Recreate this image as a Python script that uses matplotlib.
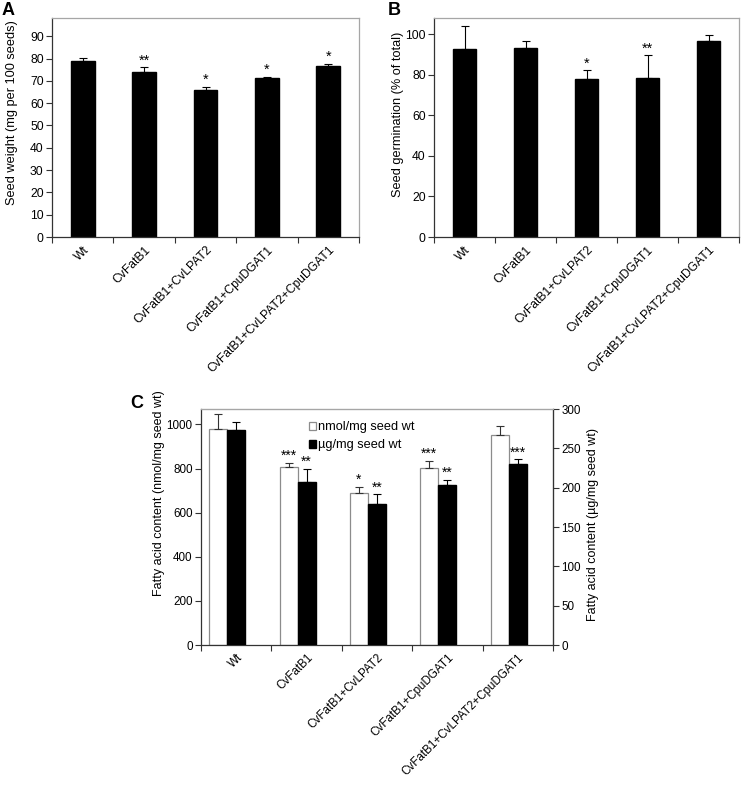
import matplotlib
matplotlib.use("Agg")
import matplotlib.pyplot as plt
import numpy as np

plt.rcParams['font.family'] = ['Liberation Sans', 'DejaVu Sans']

categories = ["Wt", "CvFatB1", "CvFatB1+CvLPAT2", "CvFatB1+CpuDGAT1", "CvFatB1+CvLPAT2+CpuDGAT1"]

# Panel A: seed weight
weight = [79.0, 74.2, 65.8, 71.1, 76.6]
weight_err = [1.3, 1.9, 1.5, 0.8, 0.9]
weight_sig = ["", "**", "*", "*", "*"]

# Panel B: germination
germ = [92.5, 93.2, 77.7, 78.2, 96.7]
germ_err = [11.4, 3.2, 4.4, 11.3, 2.7]
germ_sig = ["", "", "*", "**", ""]

# Panel C: fatty acid content
fa_nmol = [978, 805, 690, 802, 954]
fa_nmol_err = [71, 20, 26, 31, 41]
fa_nmol_sig = ["", "***", "*", "***", ""]
fa_ug = [273.5, 206.7, 178.8, 202.9, 230.3]
fa_ug_err = [10.5, 17, 12.7, 6.7, 5.6]
fa_ug_sig = ["", "**", "**", "**", "***"]

W, H = 746, 785
fig = plt.figure(figsize=(W/100, H/100), dpi=100)

def box(l, r, t, b):
    return [l/W, 1 - b/H, (r-l)/W, (b-t)/H]

DARK = "#333333"
LIGHT = "#a6a6a6"

def style_axes(ax, tick_fs, right_dark=False):
    for s in ["left", "bottom"]:
        ax.spines[s].set_color(DARK)
        ax.spines[s].set_linewidth(0.9)
    ax.spines["top"].set_color(LIGHT)
    ax.spines["top"].set_linewidth(0.9)
    ax.spines["right"].set_color(DARK if right_dark else LIGHT)
    ax.spines["right"].set_linewidth(0.9)
    ax.tick_params(axis='y', direction='out', length=4, width=0.8, color=DARK, labelsize=tick_fs, pad=2)
    ax.tick_params(axis='x', which='minor', direction='out', length=4, width=0.8, color=DARK)
    ax.tick_params(axis='x', which='major', length=0, labelsize=tick_fs, pad=5)
    n = len(categories)
    ax.set_xlim(-0.5, n - 0.5)
    ax.set_xticks(np.arange(n))
    ax.set_xticks(np.arange(n + 1) - 0.5, minor=True)

def sig_text(ax, xs, tops, sigs, size=10.5):
    for x, t, s in zip(xs, tops, sigs):
        if s:
            ax.annotate(s, (x, t), xytext=(0, 0), textcoords="offset points",
                        ha="center", va="bottom", fontsize=size)

x = np.arange(len(categories))

# Panel A
axA = fig.add_axes(box(52, 359, 18, 237))
axA.bar(x, weight, width=0.39, color="black", edgecolor="black", zorder=2)
axA.errorbar(x, weight, yerr=[np.zeros(5), weight_err], fmt="none", ecolor="black",
             elinewidth=0.8, capsize=3, capthick=0.8, zorder=3)
axA.set_ylim(0, 98.2)
axA.set_yticks(np.arange(0, 91, 10))
style_axes(axA, 8.7)
axA.set_xticklabels(categories, rotation=45, ha="right", rotation_mode="anchor")
axA.set_ylabel("Seed weight (mg per 100 seeds)", fontsize=9.2)
axA.yaxis.set_label_coords((18 - 52) / 307, 0.57)
sig_text(axA, x, np.array(weight) + np.array(weight_err), weight_sig)
fig.text(2/W, 1 - 2/H, "A", fontsize=13, fontweight="bold", va="top", ha="left")

# Panel B
axB = fig.add_axes(box(434, 739, 18, 237))
axB.bar(x, germ, width=0.39, color="black", edgecolor="black", zorder=2)
axB.errorbar(x, germ, yerr=[np.zeros(5), germ_err], fmt="none", ecolor="black",
             elinewidth=0.8, capsize=3, capthick=0.8, zorder=3)
axB.set_ylim(0, 107.9)
axB.set_yticks(np.arange(0, 101, 20))
style_axes(axB, 8.7)
axB.set_xticklabels(categories, rotation=45, ha="right", rotation_mode="anchor")
axB.set_ylabel("Seed germination (% of total)", fontsize=9.2)
axB.yaxis.set_label_coords((404 - 434) / 305, 0.56)
sig_text(axB, x, np.array(germ) + np.array(germ_err), germ_sig)
fig.text(388/W, 1 - 2/H, "B", fontsize=13, fontweight="bold", va="top", ha="left")

# Panel C
axC = fig.add_axes(box(201, 553, 409, 645))
axC2 = axC.twinx()
bw = 0.256
xw = x - bw
xb = x
axC.bar(xw, fa_nmol, width=bw, color="white", edgecolor="#8c8c8c", linewidth=0.9, zorder=2,
        label="nmol/mg seed wt")
axC.errorbar(xw, fa_nmol, yerr=[np.zeros(5), fa_nmol_err], fmt="none", ecolor="#333333",
             elinewidth=0.8, capsize=3, capthick=0.8, zorder=3)
axC.set_ylim(0, 1070)
axC.set_yticks(np.arange(0, 1001, 200))
axC2.bar(xb, fa_ug, width=bw, color="black", edgecolor="black", zorder=2,
         label="µg/mg seed wt")
axC2.errorbar(xb, fa_ug, yerr=[np.zeros(5), fa_ug_err], fmt="none", ecolor="black",
              elinewidth=0.8, capsize=3, capthick=0.8, zorder=3)
axC2.set_ylim(0, 300)
axC2.set_yticks(np.arange(0, 301, 50))
style_axes(axC, 8.4, right_dark=True)
axC2.spines["right"].set_color(DARK)
axC2.spines["top"].set_color(LIGHT)
axC2.spines["left"].set_visible(False)
axC2.spines["bottom"].set_visible(False)
axC2.tick_params(axis='y', direction='out', length=4, width=0.8, color=DARK, labelsize=8.4, pad=2)
axC.set_xticklabels(categories, rotation=45, ha="right", rotation_mode="anchor")
axC.set_ylabel("Fatty acid content (nmol/mg seed wt)", fontsize=9)
axC.yaxis.set_label_coords((165 - 201) / 352, 0.645)
axC2.set_ylabel("Fatty acid content (µg/mg seed wt)", fontsize=9)
axC2.yaxis.set_label_coords((587 - 201) / 352, 0.51)
sig_text(axC, xw, np.array(fa_nmol) + np.array(fa_nmol_err), fa_nmol_sig, size=10)
sig_text(axC2, xb, np.array(fa_ug) + np.array(fa_ug_err), fa_ug_sig, size=10)
h1, l1 = axC.get_legend_handles_labels()
h2, l2 = axC2.get_legend_handles_labels()
axC.legend(h1 + h2, l1 + l2, loc="upper left", bbox_to_anchor=(0.28, 0.985), frameon=False,
           fontsize=9.2, handlelength=0.55, handleheight=0.55, handletextpad=0.2,
           labelspacing=0.45, borderaxespad=0.3)
fig.text(130/W, 1 - 395/H, "C", fontsize=13, fontweight="bold", va="top", ha="left")

fig.savefig("out.png", dpi=100)
